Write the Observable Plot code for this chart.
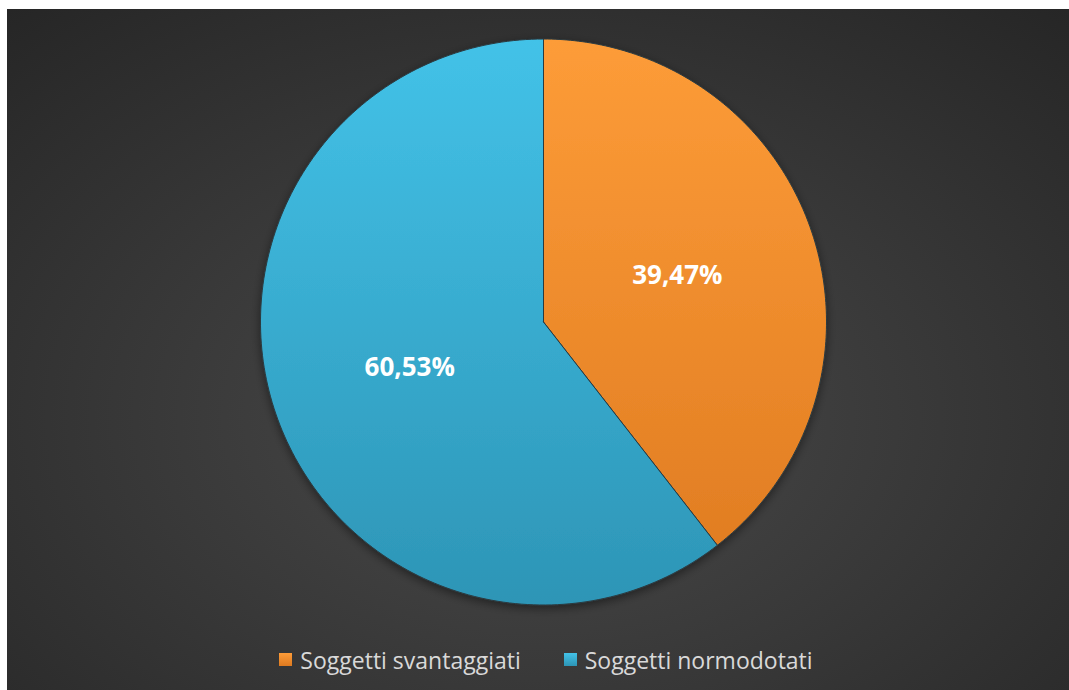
<!DOCTYPE html>
<html>
<head>
<meta charset="utf-8">
<script src="https://cdn.jsdelivr.net/npm/d3@7"></script>
<script src="https://cdn.jsdelivr.net/npm/@observablehq/plot@0.6"></script>
<style>
  html, body { margin: 0; padding: 0; background: #ffffff; }
  #wrap {
    position: absolute; left: 7px; top: 9px; width: 1062px; height: 681px;
    background: radial-gradient(ellipse 75% 80% at 50% 60%, #4a4a4a 0%, #3a3a3a 45%, #262626 100%);
    overflow: hidden;
  }
  #legend {
    display: flex; justify-content: center; align-items: center; gap: 0;
    height: 61px; margin-left: 16px;
    font-family: "Open Sans", sans-serif; font-size: 23px; color: #d9d9d9;
  }
  .item { display: flex; align-items: center; }
  .sw { width: 13px; height: 13px; margin-right: 8px; }
</style>
</head>
<body>
<div id="wrap"><div id="chart"></div><div id="legend"></div></div>
<script>
// Data
const categories = ["Soggetti svantaggiati", "Soggetti normodotati"];
const values = [39.47, 60.53];
const labels = ["39,47%", "60,53%"];
const colorsTop = ["#fd9c38", "#43c2e8"];
const colorsBottom = ["#de7a20", "#2d95b6"];

const rows = categories.map((c, i) => ({category: c, value: values[i], label: labels[i], idx: i}));
const arcs = d3.pie().sort(null).value(d => d.value)(rows);

// polygon points for each slice (derived from the pie angles)
const pts = [];
arcs.forEach(a => {
  const n = 180;
  pts.push({category: a.data.category, idx: a.data.idx, px: 0, py: 0});
  for (let k = 0; k <= n; k++) {
    const t = a.startAngle + (a.endAngle - a.startAngle) * k / n;
    pts.push({category: a.data.category, idx: a.data.idx, px: Math.sin(t), py: Math.cos(t)});
  }
  pts.push({category: a.data.category, idx: a.data.idx, px: 0, py: 0});
});
const labelPts = arcs.map(a => {
  const m = (a.startAngle + a.endAngle) / 2;
  return {label: a.data.label, px: 0.5 * Math.sin(m), py: 0.5 * Math.cos(m)};
});

const chart = Plot.plot({
  width: 1062, height: 620,
  marginLeft: 253, marginRight: 243, marginTop: 29.5, marginBottom: 24.5,
  x: {domain: [-1, 1], axis: null},
  y: {domain: [-1, 1], axis: null},
  style: {background: "transparent", overflow: "visible"},
  marks: [
    Plot.line(pts, {x: "px", y: "py", z: "category", fill: d => `url(#grad${d.idx})`, stroke: "#2b3a40", strokeWidth: 1, curve: "linear", strokeLinejoin: "round"}),
    Plot.text(labelPts, {x: "px", y: "py", text: "label", fill: "white", fontSize: 26, fontWeight: "bold", fontFamily: "Open Sans"})
  ]
});

// gradients
const svg = d3.select(chart);
const defs = svg.insert("defs", ":first-child");
colorsTop.forEach((c, i) => {
  const g = defs.append("linearGradient").attr("id", "grad" + i).attr("gradientUnits", "userSpaceOnUse")
    .attr("x1", 0).attr("y1", 29.5).attr("x2", 0).attr("y2", 595.5);
  g.append("stop").attr("offset", "0%").attr("stop-color", c);
  g.append("stop").attr("offset", "100%").attr("stop-color", colorsBottom[i]);
});
const f = defs.append("filter").attr("id", "sh").attr("x", "-10%").attr("y", "-10%").attr("width", "120%").attr("height", "120%");
f.append("feDropShadow").attr("dx", 0).attr("dy", 3).attr("stdDeviation", 5).attr("flood-color", "#000").attr("flood-opacity", 0.45);
svg.select("g[aria-label='line']").attr("filter", "url(#sh)");

document.getElementById("chart").appendChild(chart);

// legend
const leg = document.getElementById("legend");
categories.forEach((c, i) => {
  const it = document.createElement("div");
  it.className = "item";
  it.style.marginRight = i === 0 ? "43px" : "0";
  it.innerHTML = `<div class="sw" style="background:linear-gradient(${colorsTop[i]}, ${colorsBottom[i]})"></div><span>${c}</span>`;
  leg.appendChild(it);
});
</script>
</body>
</html>
